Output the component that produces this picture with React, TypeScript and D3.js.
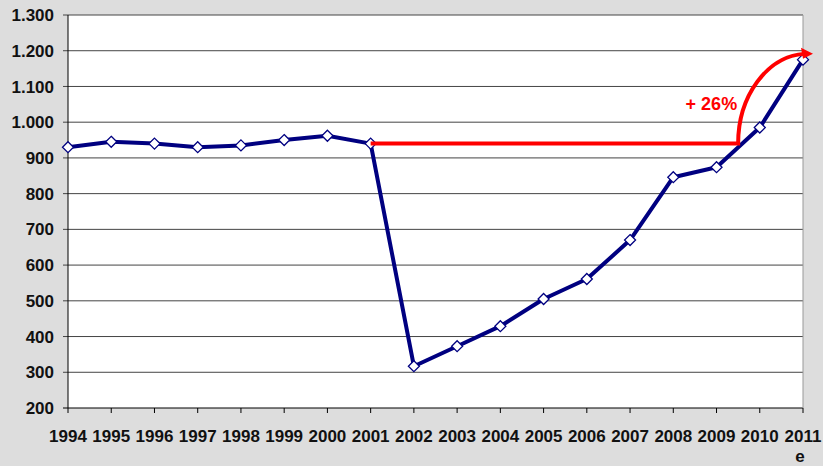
import React from 'react';
import * as d3 from 'd3';

const years = ['1994', '1995', '1996', '1997', '1998', '1999', '2000', '2001', '2002', '2003', '2004', '2005', '2006', '2007', '2008', '2009', '2010', '2011'];
const values = [930, 945, 940, 930, 935, 950, 962, 940, 317, 373, 429, 505, 561, 670, 846, 874, 985, 1175];
const yTicks = [200, 300, 400, 500, 600, 700, 800, 900, 1000, 1100, 1200, 1300];
const baseValue = 940;
const baseFrom = 2001;
const baseTo = 2009.5;
const growthLabel = '+ 26%';

const W = 823;
const H = 466;
const m = { top: 15, right: 20, bottom: 58, left: 68 };

const fmt = (v: number) => (v >= 1000 ? d3.format(',')(v).replace(',', '.') : String(v));

export default function App() {
  const x = d3.scaleLinear().domain([1994, 2011]).range([m.left, W - m.right]);
  const y = d3.scaleLinear().domain([200, 1300]).range([H - m.bottom, m.top]);
  const pts = values.map((v, i) => [x(+years[i]), y(v)] as [number, number]);
  const line = d3.line()(pts) || '';

  // red annotation: horizontal baseline, then quarter arc to the last point
  const x0 = x(baseFrom);
  const x1 = x(baseTo);
  const yb = y(baseValue);
  const xe = x(2011) + 5;
  const ye = y(1180) - 4;
  const arc = `M${x0},${yb} L${x1},${yb} A${xe - x1},${yb - ye} 0 0 1 ${xe - 4},${ye}`;

  const font = 'Arial, "Liberation Sans", sans-serif';

  return (
    <svg width={W} height={H} style={{ position: 'absolute', left: 0, top: 0, background: '#dddddd' }}>
      <rect x={m.left} y={m.top} width={W - m.left - m.right} height={H - m.top - m.bottom} fill="#fff" />
      {yTicks.map((t) => (
        <g key={t}>
          <line x1={m.left - 5} x2={W - m.right} y1={y(t)} y2={y(t)} stroke={t === 200 ? '#000' : '#444'} strokeWidth={1} />
          <text x={m.left - 14} y={y(t)} dy="0.36em" textAnchor="end" fontFamily={font} fontWeight="bold" fontSize={17} fill="#111">
            {fmt(t)}
          </text>
        </g>
      ))}
      <line x1={W - m.right} x2={W - m.right} y1={m.top} y2={H - m.bottom} stroke="#999" />
      <line x1={m.left} x2={m.left} y1={m.top} y2={H - m.bottom} stroke="#000" />
      {years.map((yr) => (
        <g key={yr}>
          <line x1={x(+yr)} x2={x(+yr)} y1={H - m.bottom} y2={H - m.bottom + 5} stroke="#000" />
          <text x={x(+yr)} y={442} textAnchor="middle" fontFamily={font} fontWeight="bold" fontSize={17} fill="#111">
            {yr}
          </text>
        </g>
      ))}
      <text x={x(2011) - 3} y={462} textAnchor="middle" fontFamily={font} fontWeight="bold" fontSize={17} fill="#111">e</text>

      <path d={line} fill="none" stroke="#000080" strokeWidth={4} strokeLinejoin="round" />
      {pts.map(([px, py], i) => (
        <path key={i} d={`M${px},${py - 5.5} L${px + 5.5},${py} L${px},${py + 5.5} L${px - 5.5},${py} Z`} fill="#fff" stroke="#000080" strokeWidth={1.3} />
      ))}

      <path d={arc} fill="none" stroke="#ff0000" strokeWidth={4} />
      <path d={`M${xe + 5},${ye} L${xe - 7},${ye - 6} L${xe - 5},${ye + 5} Z`} fill="#ff0000" />
      <text x={x1 - 1} y={110} textAnchor="end" fontFamily={font} fontWeight="bold" fontSize={18} fill="#ff0000">
        {growthLabel}
      </text>
    </svg>
  );
}
